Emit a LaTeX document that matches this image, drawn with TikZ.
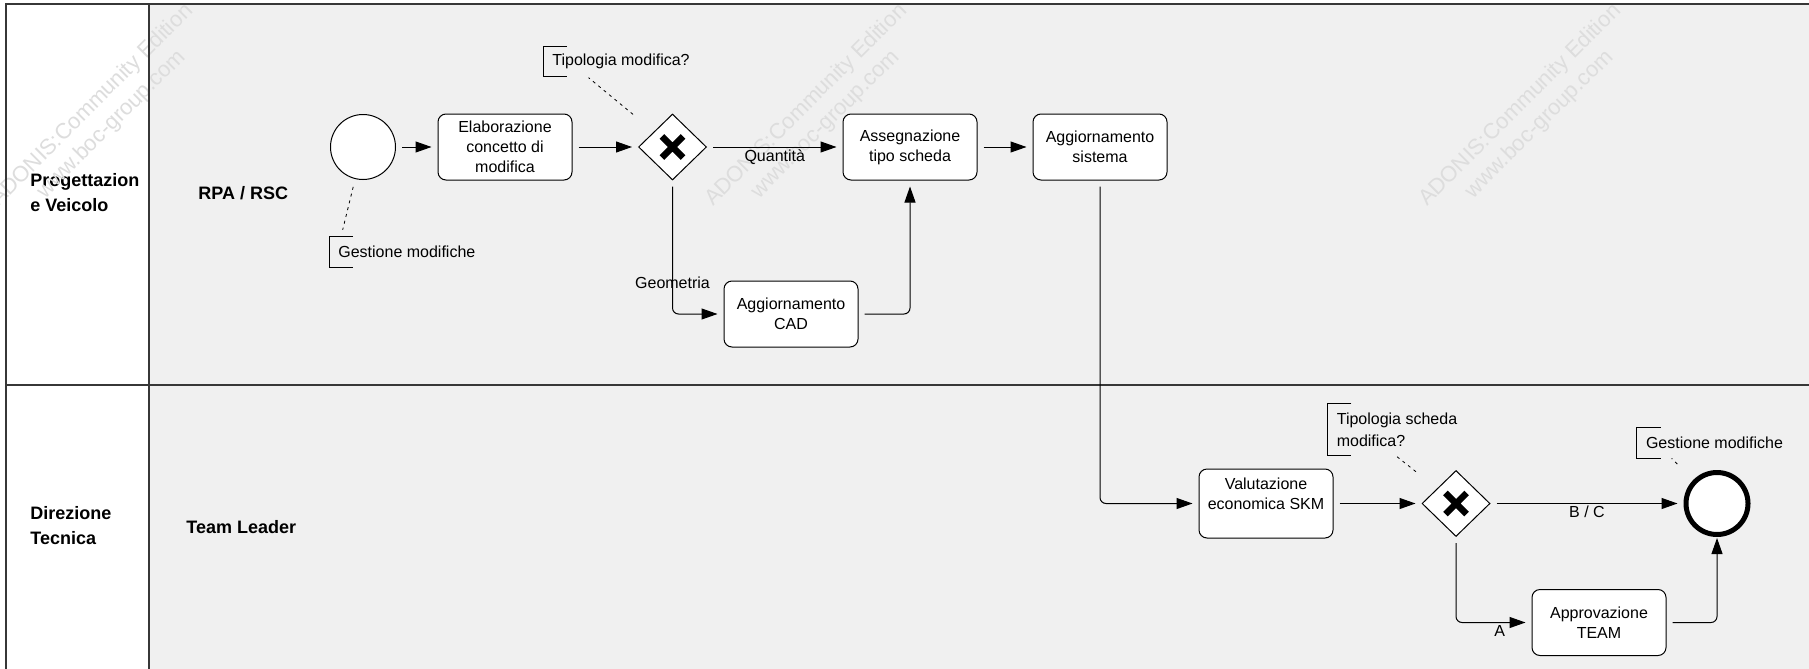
\documentclass[tikz,border=0pt]{standalone}
\usepackage{fontspec}
\setmainfont{Liberation Sans}
\usetikzlibrary{shapes.geometric,arrows.meta,calc}

\definecolor{lanefill}{RGB}{240,240,240}
\definecolor{laneline}{RGB}{55,55,55}
\definecolor{wmark}{RGB}{221,221,221}

\tikzset{
  task/.style={draw=black, fill=white, rounded corners=4pt, line width=0.5pt,
    minimum width=67pt, minimum height=33pt, align=center, inner sep=1pt,
    font=\fontsize{8pt}{10pt}\selectfont},
  gateway/.style={diamond, draw=black, fill=white, line width=0.5pt,
    minimum width=34pt, minimum height=33pt, inner sep=0pt,
    path picture={
      \draw[line width=3.2pt]
        ([shift={(-5.3pt,-5.3pt)}]path picture bounding box.center) --
        ([shift={(5.3pt,5.3pt)}]path picture bounding box.center)
        ([shift={(-5.3pt,5.3pt)}]path picture bounding box.center) --
        ([shift={(5.3pt,-5.3pt)}]path picture bounding box.center);}},
  startev/.style={circle, draw=black, fill=white, line width=0.5pt,
    minimum size=32.5pt, inner sep=0pt},
  endev/.style={circle, draw=black, fill=white, line width=2.5pt,
    minimum size=31pt, inner sep=0pt},
  flow/.style={draw=black, line width=0.5pt,
    -{Triangle[length=8pt,width=5.5pt]}, rounded corners=3pt,
    shorten <=3pt, shorten >=3pt},
  assoc/.style={draw=black, line width=0.4pt, dash pattern=on 1.5pt off 2pt},
  annot/.style={anchor=west, align=left, inner xsep=4.5pt, inner ysep=0pt,
    font=\fontsize{8pt}{11pt}\selectfont},
  flowlabel/.style={font=\fontsize{8pt}{10pt}\selectfont, inner sep=1pt},
  lanelabel/.style={anchor=west, align=left, inner sep=0pt,
    font=\fontsize{9pt}{12.5pt}\selectfont\bfseries},
  watermark/.style={rotate=45, align=center, text=wmark, inner sep=0pt,
    font=\fontsize{11pt}{13.5pt}\selectfont},
  lanerule/.style={draw=laneline, line width=0.75pt},
}

\newcommand\annbracket[1]{%
  \draw[line width=0.5pt] ([xshift=12pt]#1.north west) -- (#1.north west)
    -- (#1.south west) -- ([xshift=12pt]#1.south west);}

\begin{document}
\begin{tikzpicture}[x=0.5pt, y=-0.5pt]
  \useasboundingbox (0,0) rectangle (1809,669);
  \clip (0,0) rectangle (1809,669);

  % pool background: white label column, grey lanes
  \fill[white] (0,0) rectangle (1809,669);
  \fill[lanefill] (149,4) rectangle (1809,669);

  % lane titles
  \node[lanelabel] (poolA) at (30,193) {Progettazion\\e Veicolo};
  \node[lanelabel] (poolB) at (30,526) {Direzione\\Tecnica};
  \node[lanelabel] (roleA) at (198,193) {RPA / RSC};
  \node[lanelabel] (roleB) at (186,527) {Team Leader};

  % edition stamp
  \node[watermark] (wm1) at (102,115) {ADONIS:Community Edition\\www.boc-group.com};
  \node[watermark] (wm2) at (816,115) {ADONIS:Community Edition\\www.boc-group.com};
  \node[watermark] (wm3) at (1530,115) {ADONIS:Community Edition\\www.boc-group.com};

  % lane borders
  \draw[lanerule] (6,669) -- (6,4) -- (1809,4);
  \draw[lanerule] (149,4) -- (149,669);
  \draw[lanerule] (6,385) -- (1809,385);

  % upper lane
  \node[startev] (start) at (363,147) {};
  \node[task] (elab) at (505,147) {Elaborazione\\concetto di\\modifica};
  \node[gateway] (gw1) at (672.5,147) {};
  \node[task] (assegn) at (910,147) {Assegnazione\\tipo scheda};
  \node[task] (aggsis) at (1100,147) {Aggiornamento\\sistema};
  \node[task] (cad) at (791,314) {Aggiornamento\\CAD};

  % lower lane
  \node[task, minimum height=34.5pt] (valut) at (1266,503.5)
    {Valutazione\\economica SKM\\\mbox{}};
  \node[gateway] (gw2) at (1456,503.5) {};
  \node[endev] (endev) at (1717,503.5) {};
  \node[task] (approv) at (1599,622.5) {Approvazione\\TEAM};

  % text annotations
  \node[annot, minimum height=15pt] (ann1) at (329,252) {Gestione modifiche};
  \node[annot, minimum height=14.5pt] (ann2) at (543,61.5) {Tipologia modifica?};
  \node[annot, minimum height=25.5pt] (ann3) at (1327.4,429.5) {Tipologia scheda\\modifica?};
  \node[annot, minimum height=15pt] (ann4) at (1636.6,443) {Gestione modifiche};
  \annbracket{ann1}
  \annbracket{ann2}
  \annbracket{ann3}
  \annbracket{ann4}

  \draw[assoc, shorten <=4pt, shorten >=3.5pt] (start) -- ([xshift=6pt]ann1.north west);
  \draw[assoc, shorten <=13.5pt, shorten >=1pt] (gw1) -- ([xshift=22pt]ann2.south west);
  \draw[assoc, shorten <=13.5pt, shorten >=0.5pt] (gw2) -- ([xshift=34pt]ann3.south west);
  \draw[assoc, shorten <=11.25pt] (endev) -- ([xshift=17.5pt]ann4.south west);

  % sequence flows
  \draw[flow] (start) -- (elab);
  \draw[flow] (elab) -- (gw1);
  \draw[flow] (gw1) -- node[flowlabel, below] (lq) {Quantità} (assegn);
  \draw[flow] (gw1) |- node[flowlabel, pos=0.384] (lg) {Geometria} (cad);
  \draw[flow] (cad) -| (assegn);
  \draw[flow] (assegn) -- (aggsis);
  \draw[flow] (aggsis) |- (valut);
  \draw[flow] (valut) -- (gw2);
  \draw[flow] (gw2) -- node[flowlabel, below] (lbc) {B / C} (endev);
  \draw[flow] (gw2) |- node[flowlabel, below, pos=0.79] (la) {A} (approv);
  \draw[flow, shorten >=0.5pt] (approv) -| (endev);
\end{tikzpicture}
\end{document}
